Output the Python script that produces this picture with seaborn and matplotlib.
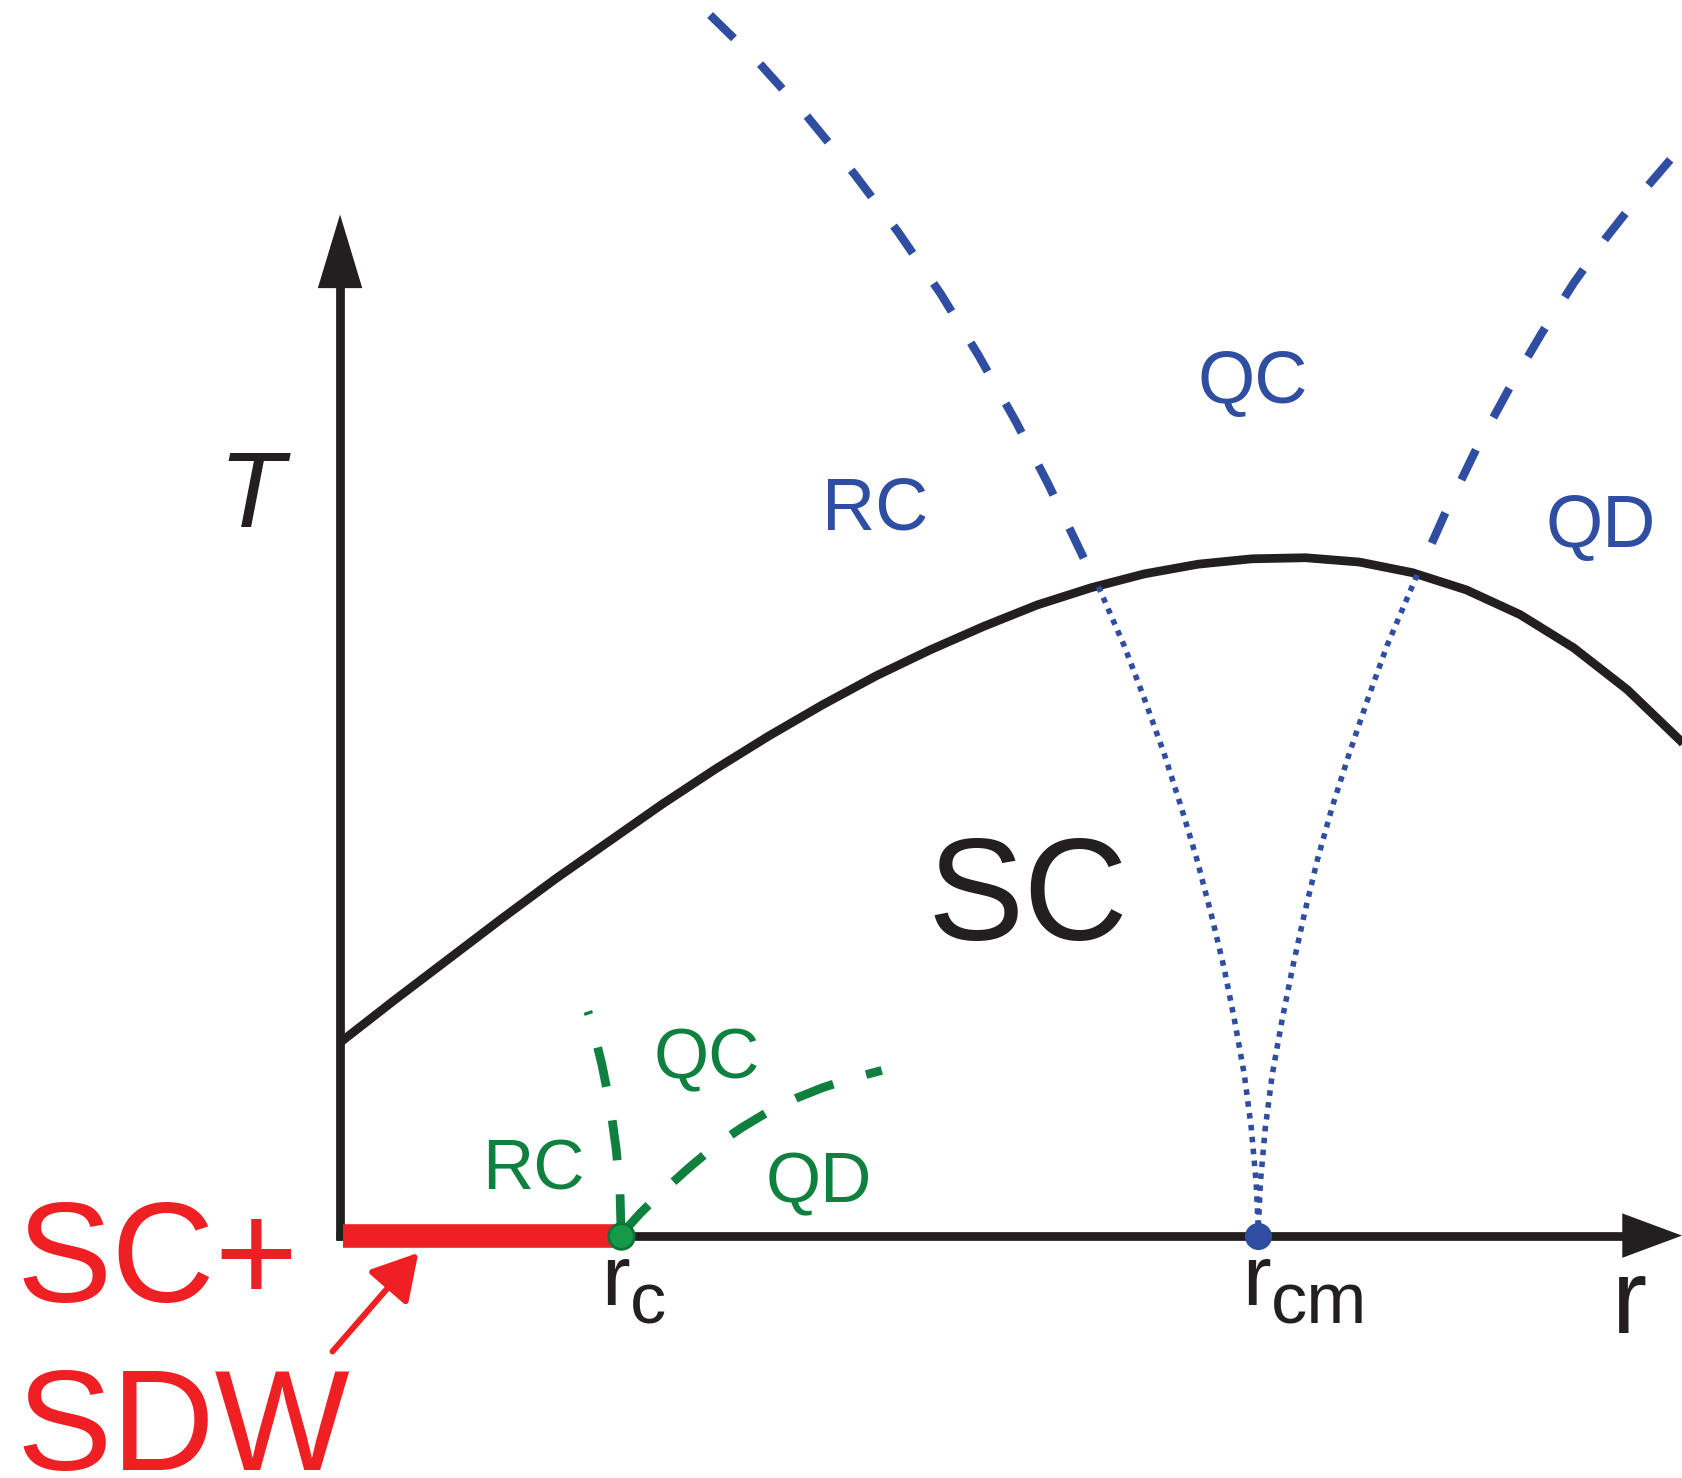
import numpy as np
import matplotlib
matplotlib.use('Agg')
from matplotlib import pyplot as plt
from matplotlib.patches import FancyArrowPatch
import seaborn as sns

sns.set_theme(style='white')
plt.rcParams['font.family'] = ['Liberation Sans', 'DejaVu Sans']

# colours
black = '#231F20'
blue = '#2F4EA1'
green = '#10803F'
green_dot = '#169A4A'
green_edge = '#0E7436'
red = '#EE2024'

# special points on the r axis
r_c = 2.62
r_cm = 8.56

# superconducting dome Tc(r)
dome_r = [0.0, 0.5, 1.0, 1.5, 2.0, 2.5, 3.0, 3.5, 4.0, 4.5, 5.0, 5.5, 6.0, 6.5, 7.0,
          7.5, 8.0, 8.5, 9.0, 9.5, 10.0, 10.5, 11.0, 11.5, 12.0, 12.5, 12.6]
dome_T = [1.80, 2.19, 2.57, 2.95, 3.32, 3.67, 4.02, 4.35, 4.66, 4.95, 5.22, 5.46, 5.68, 5.88, 6.04,
          6.17, 6.26, 6.31, 6.32, 6.28, 6.18, 6.02, 5.79, 5.48, 5.09, 4.61, 4.50]

# blue crossover lines around r_cm, dashed above Tc
rc_left_r = [3.45, 3.90, 4.35, 4.80, 5.20, 5.60, 5.95, 6.30, 6.60, 6.85, 7.06]
rc_left_T = [11.38, 10.94, 10.44, 9.89, 9.36, 8.78, 8.21, 7.59, 7.01, 6.49, 6.05]
rc_right_r = [12.40, 12.10, 11.80, 11.50, 11.20, 10.90, 10.60, 10.30, 10.05]
rc_right_T = [10.03, 9.68, 9.30, 8.88, 8.41, 7.90, 7.35, 6.73, 6.17]

# dotted below Tc, meeting at r_cm
sc_T = [6.05, 5.5, 5.0, 4.5, 4.0, 3.5, 3.0, 2.5, 2.0, 1.5, 1.0, 0.5, 0.07]
sc_left_r = [7.07, 7.31, 7.50, 7.68, 7.84, 7.99, 8.12, 8.24, 8.34, 8.43, 8.495, 8.54, 8.56]
sc_right_T = [6.16, 5.5, 5.0, 4.5, 4.0, 3.5, 3.0, 2.5, 2.0, 1.5, 1.0, 0.5, 0.07]
sc_right_r = [10.04, 9.76, 9.58, 9.41, 9.25, 9.11, 8.99, 8.88, 8.78, 8.69, 8.625, 8.58, 8.56]

# green crossover lines from r_c
g_left_T = [0.01, 0.4, 0.8, 1.2, 1.6, 2.0, 2.09]
g_left_r = [2.62, 2.61, 2.575, 2.52, 2.44, 2.34, 2.31]
g_right_r = [2.62, 2.80, 3.0, 3.25, 3.5, 3.75, 4.0, 4.25, 4.5, 4.75, 5.05]
g_right_T = [0.01, 0.21, 0.405, 0.63, 0.84, 1.01, 1.16, 1.28, 1.38, 1.46, 1.54]

# axes of the diagram
T_axis_top = 9.52
r_axis_end = 12.51

fig = plt.figure(figsize=(16.82, 14.78), dpi=100)
ax = fig.add_axes([0, 0, 1, 1])
ax.set_xlim(-3.17, 12.51)
ax.set_ylim(-2.26, 11.52)
ax.axis('off')


def line(x, y, **kw):
    sns.lineplot(x=np.array(x), y=np.array(y), sort=False, estimator=None, ax=ax, **kw)


#axis shafts
line([0, 0], [-0.04, T_axis_top - 0.6], color=black, lw=6.3, solid_capstyle='butt')
line([-0.04, r_axis_end - 0.5], [0, 0], color=black, lw=6.3, solid_capstyle='butt')

#arrow heads
ax.add_patch(FancyArrowPatch((0, T_axis_top - 0.7), (0, T_axis_top), arrowstyle='-|>,head_length=53,head_width=16',
                             mutation_scale=1, lw=0, color=black, shrinkA=0, shrinkB=0))
ax.add_patch(FancyArrowPatch((r_axis_end - 0.6, 0), (r_axis_end, 0), arrowstyle='-|>,head_length=43,head_width=16',
                             mutation_scale=1, lw=0, color=black, shrinkA=0, shrinkB=0))

#Tc dome
line(dome_r, dome_T, color=black, lw=6.3, solid_capstyle='butt')

#blue crossovers
line(rc_left_r, rc_left_T, color=blue, lw=6, linestyle=(0, (4.0, 4.4)))
line(rc_right_r, rc_right_T, color=blue, lw=6, linestyle=(0, (4.0, 4.4)))
line(sc_left_r, sc_T, color=blue, lw=4.0, linestyle=(0, (1, 1.15)))
line(sc_right_r, sc_right_T, color=blue, lw=4.0, linestyle=(0, (1, 1.15)))

#green crossovers
line(g_left_r, g_left_T, color=green, lw=6.3, linestyle=(0, (4.6, 3.9)))
line(g_right_r, g_right_T, color=green, lw=6.3, linestyle=(0, (4.6, 3.9)))

#SC+SDW segment
line([0.03, r_c], [0, 0], color=red, lw=17, solid_capstyle='butt')

#critical points
sns.scatterplot(x=[r_c], y=[0], s=340, color=green_dot, edgecolor=green_edge, linewidth=2, ax=ax, zorder=5)
sns.scatterplot(x=[r_cm], y=[0], s=340, color=blue, edgecolor=blue, linewidth=1, ax=ax, zorder=5)

#red arrow pointing to the segment
ax.add_patch(FancyArrowPatch((-0.07, -1.08), (0.73, -0.16), arrowstyle='-|>,head_length=28,head_width=16',
                             mutation_scale=1, lw=4.3, color=red, shrinkA=0, shrinkB=0))

#labels
ax.text(-0.83, 6.61, 'T', fontsize=77, style='italic', color=black, ha='center', va='baseline')
ax.text(6.41, 2.76, 'SC', fontsize=104, color=black, ha='center', va='baseline')

ax.text(4.99, 6.58, 'RC', fontsize=53, color=blue, ha='center', va='baseline')
ax.text(8.51, 7.76, 'QC', fontsize=53, color=blue, ha='center', va='baseline')
ax.text(11.75, 6.42, 'QD', fontsize=53, color=blue, ha='center', va='baseline')

ax.text(1.80, 0.43, 'RC', fontsize=51, color=green, ha='center', va='baseline')
ax.text(3.42, 1.47, 'QC', fontsize=51, color=green, ha='center', va='baseline')
ax.text(4.46, 0.31, 'QD', fontsize=51, color=green, ha='center', va='baseline')

ax.text(-3.02, -0.62, 'SC+', fontsize=103, color=red, ha='left', va='baseline')
ax.text(-3.02, -2.19, 'SDW', fontsize=103, color=red, ha='left', va='baseline')

ax.text(2.70, -0.65, 'r', fontsize=62, color=black, ha='right', va='baseline')
ax.text(2.70, -0.82, 'c', fontsize=52, color=black, ha='left', va='baseline')
ax.text(8.68, -0.65, 'r', fontsize=62, color=black, ha='right', va='baseline')
ax.text(8.68, -0.82, 'cm', fontsize=52, color=black, ha='left', va='baseline')
ax.text(12.02, -0.91, 'r', fontsize=76, color=black, ha='center', va='baseline')

fig.savefig('out.png', dpi=100)
